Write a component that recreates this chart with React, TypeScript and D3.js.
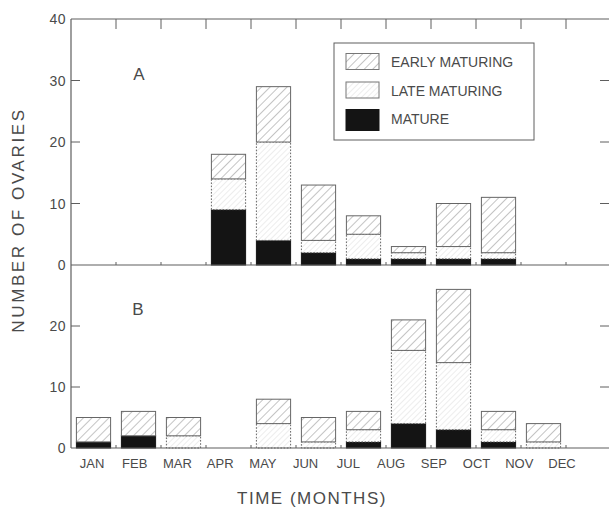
import React from "react";
import * as d3 from "d3";

// Months along the shared time axis
const months = ["JAN", "FEB", "MAR", "APR", "MAY", "JUN", "JUL", "AUG", "SEP", "OCT", "NOV", "DEC"];

// Panel A counts per month
const matureA = [0, 0, 0, 9, 4, 2, 1, 1, 1, 1, 0, 0];
const lateA = [0, 0, 0, 5, 16, 2, 4, 1, 2, 1, 0, 0];
const earlyA = [0, 0, 0, 4, 9, 9, 3, 1, 7, 9, 0, 0];

// Panel B counts per month
const matureB = [1, 2, 0, 0, 0, 0, 1, 4, 3, 1, 0, 0];
const lateB = [0, 0, 2, 0, 4, 1, 2, 12, 11, 2, 1, 0];
const earlyB = [4, 4, 3, 0, 4, 4, 3, 5, 12, 3, 3, 0];

const ticksA = [0, 10, 20, 30, 40];
const ticksB = [0, 10, 20];

const legendItems = ["EARLY MATURING", "LATE MATURING", "MATURE"];
const stageKeys = ["mature", "late", "early"];

const W = 609;
const H = 508;
const left = 71;
const right = 611;
const top = 19;
const mid = 265;
const bottom = 448;

const FONT = "'Liberation Sans', Arial, sans-serif";
const INK = "#4a4a4a";
const LINE = "#5e5e5e";

function buildRows(mature: number[], late: number[], early: number[]) {
  return months.map((m, i) => ({ month: m, mature: mature[i], late: late[i], early: early[i] }));
}

export default function App() {
  const x = d3.scaleBand<string>().domain(months).range([left, right]).paddingInner(0.24).paddingOuter(0.12);
  const labelX = d3.scalePoint<string>().domain(months).range([92, 562]);
  const yA = d3.scaleLinear().domain([0, 40]).range([mid, top]);
  const yB = d3.scaleLinear().domain([0, 30]).range([bottom, mid]);

  const stack = d3.stack<any>().keys(stageKeys);
  const seriesA = stack(buildRows(matureA, lateA, earlyA));
  const seriesB = stack(buildRows(matureB, lateB, earlyB));

  const fillFor = (key: string) =>
    key === "mature" ? "#141414" : key === "late" ? "url(#lateHatch)" : "url(#earlyHatch)";

  const renderBars = (series: d3.Series<any, string>[], y: d3.ScaleLinear<number, number>, tag: string) =>
    series.map((s) =>
      s.map((d, i) => {
        const h = y(d[0]) - y(d[1]);
        if (h <= 0) return null;
        const key = s.key;
        return (
          <rect
            key={`${tag}-${key}-${i}`}
            x={x(months[i])}
            y={y(d[1])}
            width={x.bandwidth()}
            height={h}
            fill={fillFor(key)}
            stroke={key === "mature" ? "#141414" : "#666"}
            strokeWidth={1}
            strokeDasharray={key === "late" ? "1.6 1.6" : undefined}
          />
        );
      })
    );

  const boundaries = months.slice(1).map((m) => (x(m) as number) - (x.step() * x.paddingInner()) / 2);

  return (
    <svg
      width={W}
      height={H}
      style={{ position: "absolute", left: 0, top: 0, background: "#fff" }}
      fontFamily={FONT}
    >
      <defs>
        <pattern id="earlyHatch" patternUnits="userSpaceOnUse" width={6} height={6} patternTransform="rotate(45)">
          <rect width={6} height={6} fill="#fff" />
          <line x1={0} y1={0} x2={0} y2={6} stroke="#8a8a8a" strokeWidth={1} />
        </pattern>
        <pattern id="lateHatch" patternUnits="userSpaceOnUse" width={4} height={4} patternTransform="rotate(45)">
          <rect width={4} height={4} fill="#fff" />
          <line x1={0} y1={0} x2={0} y2={4} stroke="#d2d2d2" strokeWidth={0.8} />
        </pattern>
      </defs>

      {/* bars */}
      {renderBars(seriesA as any, yA, "A")}
      {renderBars(seriesB as any, yB, "B")}

      {/* frame */}
      <line x1={left} x2={right} y1={top} y2={top} stroke={LINE} strokeWidth={1.2} />
      <line x1={left} x2={right} y1={mid} y2={mid} stroke={LINE} strokeWidth={1.2} />
      <line x1={left} x2={right} y1={bottom} y2={bottom} stroke={LINE} strokeWidth={1.2} />
      <line x1={left} x2={left} y1={top} y2={bottom} stroke={LINE} strokeWidth={1.2} />

      {/* month boundary ticks */}
      {boundaries.map((bx, i) => (
        <g key={`bt-${i}`} stroke={LINE} strokeWidth={1}>
          <line x1={bx} x2={bx} y1={top} y2={top + 10} />
          <line x1={bx} x2={bx} y1={mid} y2={mid - 3} />
          <line x1={bx} x2={bx} y1={bottom} y2={bottom - 3} />
        </g>
      ))}

      {/* y ticks, panel A */}
      {ticksA.map((t) => (
        <g key={`ya-${t}`}>
          {t > 0 && t < 40 && (
            <>
              <line x1={left} x2={left + 9} y1={yA(t)} y2={yA(t)} stroke={LINE} strokeWidth={1} />
              <line x1={W - 9} x2={W} y1={yA(t)} y2={yA(t)} stroke={LINE} strokeWidth={1} />
            </>
          )}
          <text x={66} y={yA(t)} dy="0.36em" textAnchor="end" fontSize={14} fill={INK} letterSpacing={0.5}>
            {t}
          </text>
        </g>
      ))}

      {/* y ticks, panel B */}
      {ticksB.map((t) => (
        <g key={`yb-${t}`}>
          {t > 0 && (
            <>
              <line x1={left} x2={left + 9} y1={yB(t)} y2={yB(t)} stroke={LINE} strokeWidth={1} />
              <line x1={W - 9} x2={W} y1={yB(t)} y2={yB(t)} stroke={LINE} strokeWidth={1} />
            </>
          )}
          <text x={66} y={yB(t)} dy="0.36em" textAnchor="end" fontSize={14} fill={INK} letterSpacing={0.5}>
            {t}
          </text>
        </g>
      ))}

      {/* month labels */}
      {months.map((m) => (
        <text key={`m-${m}`} x={labelX(m)} y={468} textAnchor="middle" fontSize={13} fill={INK}>
          {m}
        </text>
      ))}

      {/* panel letters */}
      <text x={139} y={80} textAnchor="middle" fontSize={17} fill={INK}>A</text>
      <text x={138} y={315} textAnchor="middle" fontSize={17} fill={INK}>B</text>

      {/* axis titles */}
      <text x={312} y={504} textAnchor="middle" fontSize={17} fill={INK} letterSpacing={1.5}>
        TIME (MONTHS)
      </text>
      <text
        transform="translate(24,220) rotate(-90)"
        textAnchor="middle"
        fontSize={17}
        fill={INK}
        letterSpacing={2.6}
      >
        NUMBER OF OVARIES
      </text>

      {/* legend */}
      <rect x={334} y={43} width={200} height={97} fill="#fff" stroke={LINE} strokeWidth={1} />
      {legendItems.map((label, i) => {
        const key = ["early", "late", "mature"][i];
        const cy = 62 + i * 28.5;
        return (
          <g key={`lg-${label}`}>
            <rect
              x={346}
              y={cy - 8.5}
              width={33}
              height={key === "mature" ? 21 : 16}
              transform={key === "mature" ? "translate(0,-1)" : undefined}
              fill={fillFor(key)}
              stroke={key === "mature" ? "#141414" : "#777"}
              strokeWidth={1}
            />
            <text x={391} y={cy} dy="0.36em" fontSize={14} fill={INK}>
              {label}
            </text>
          </g>
        );
      })}
    </svg>
  );
}
